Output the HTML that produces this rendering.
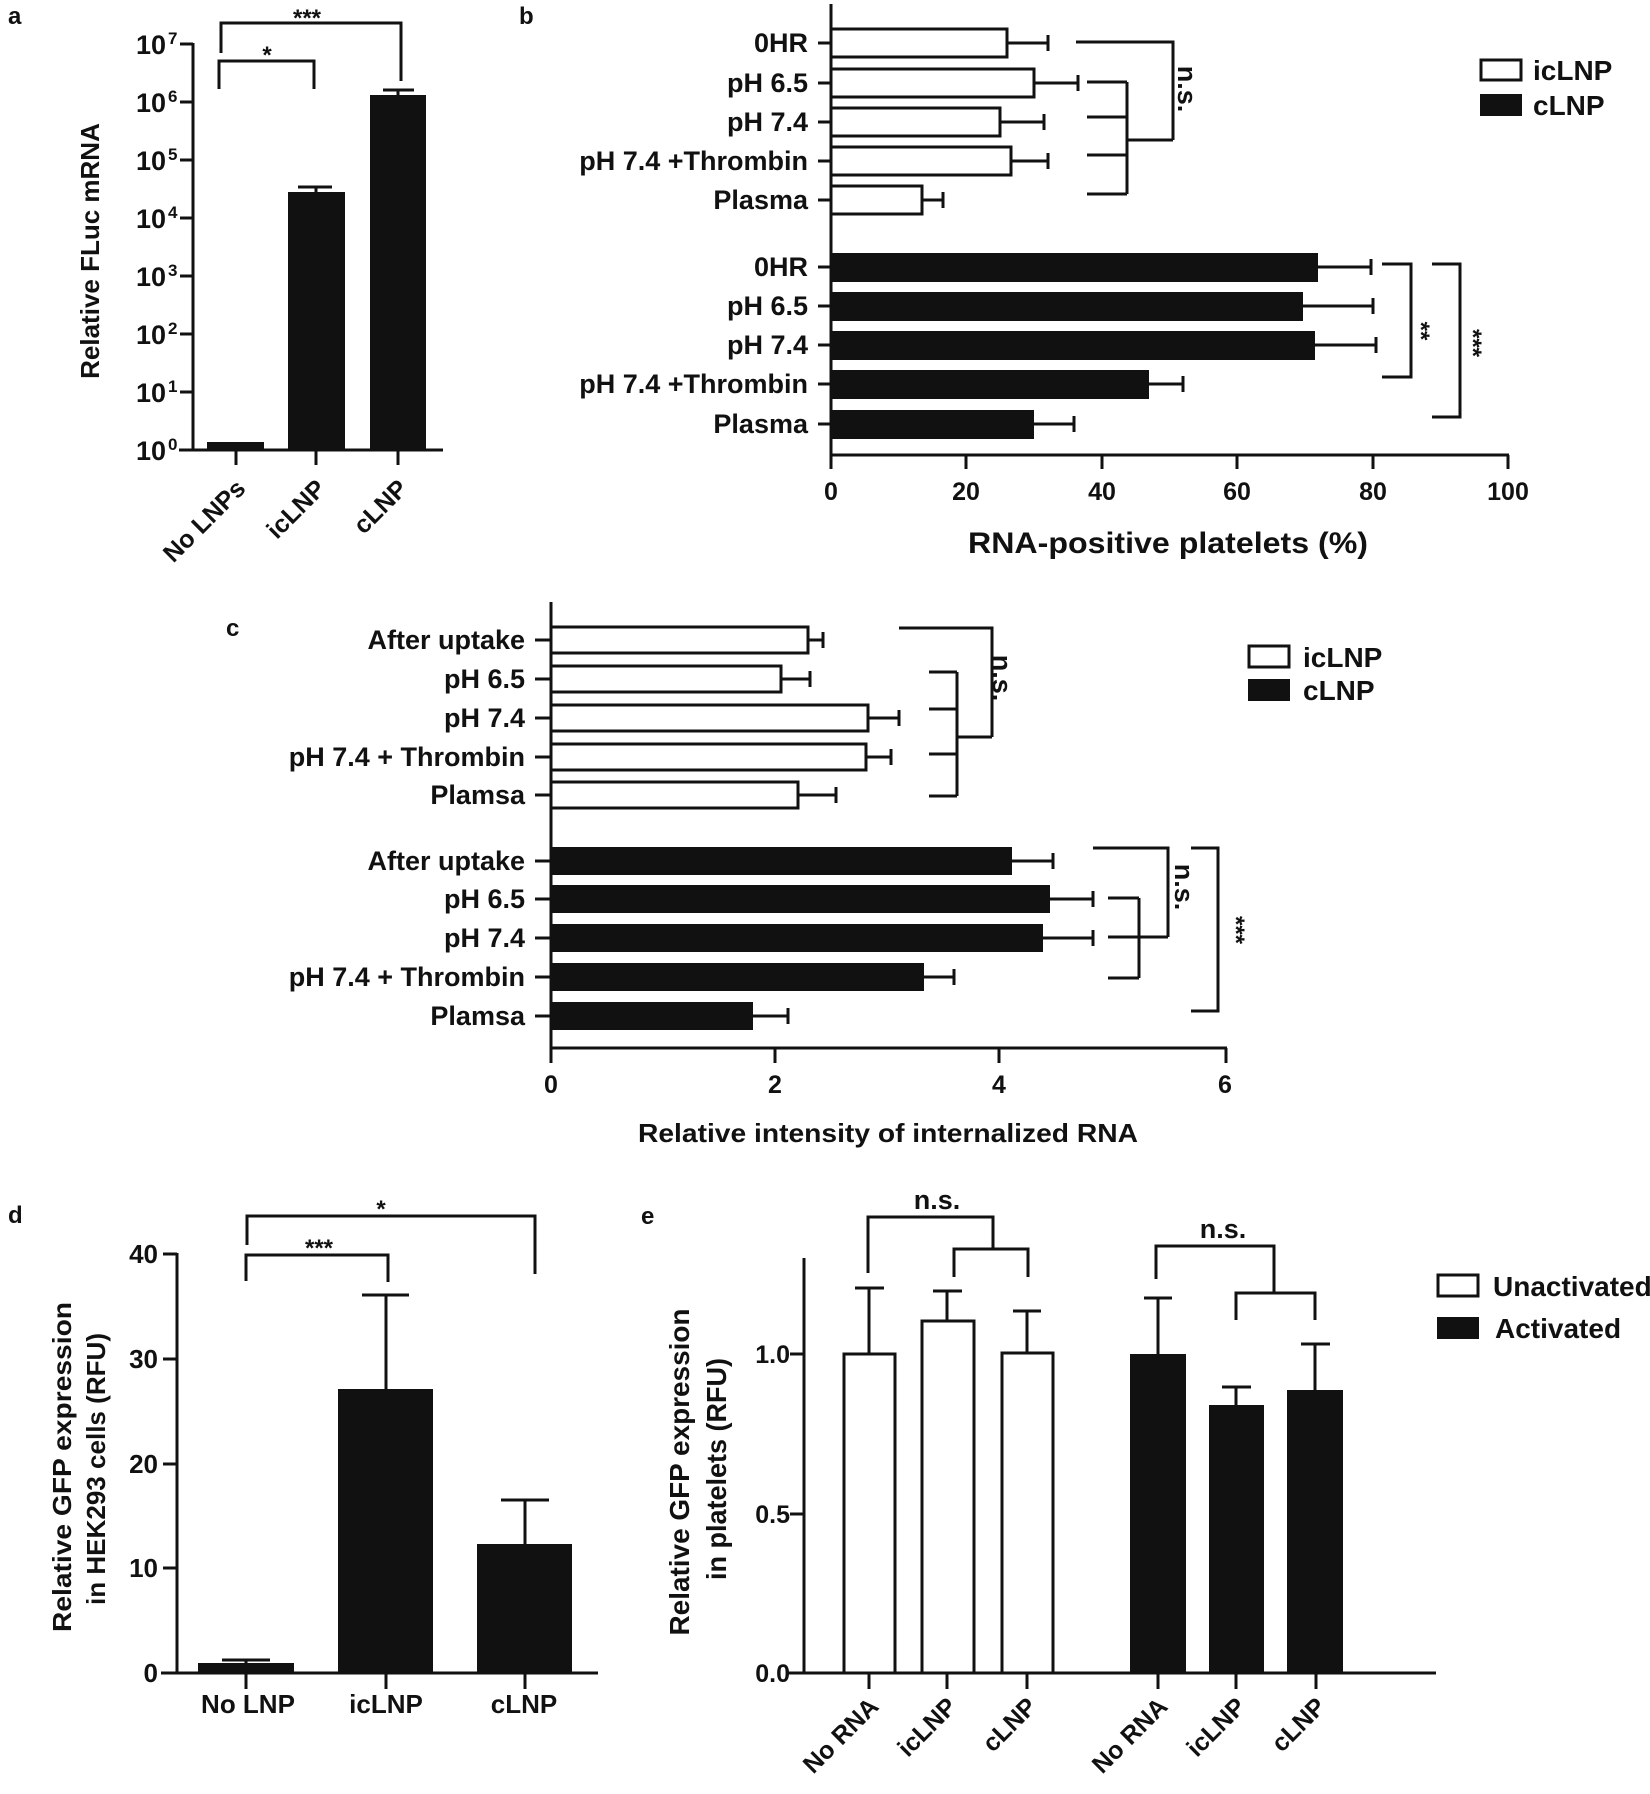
<!DOCTYPE html>
<html><head><meta charset="utf-8"><style>
html,body{margin:0;padding:0;background:#fff;}
svg{display:block;}
text{font-family:"Liberation Sans",Arial,sans-serif;font-weight:bold;fill:#111;}
</style></head><body>
<svg width="1650" height="1794" viewBox="0 0 1650 1794" xmlns="http://www.w3.org/2000/svg">
<g stroke="#111" stroke-width="3" fill="none" stroke-linecap="butt">

<!-- ===== Panel a ===== -->
<line x1="193" y1="43" x2="193" y2="451"/>
<line x1="179" y1="450" x2="443" y2="450"/>
<path d="M180 44H193M180 102H193M180 160H193M180 218H193M180 276H193M180 334H193M180 392H193"/>
<path d="M236 450V465M316 450V465M398 450V465"/>
<!-- brackets -->
<path d="M221 53V23H401V81"/>
<path d="M219 89V61H314V89"/>
<!-- error caps -->
<path d="M316 192V187M298 187H332M398 95V90M383 90H414"/>
</g>
<g fill="#111">
<rect x="207" y="442" width="57" height="8"/>
<rect x="288" y="192" width="57" height="258"/>
<rect x="370" y="95" width="56" height="355"/>
</g>
<g font-size="27" text-anchor="end">
<text x="166" y="54">10</text><text x="166" y="112">10</text><text x="166" y="170">10</text><text x="166" y="228">10</text>
<text x="166" y="286">10</text><text x="166" y="344">10</text><text x="166" y="402">10</text><text x="166" y="460">10</text>
</g>
<g font-size="17">
<text x="168" y="44">7</text><text x="168" y="102">6</text><text x="168" y="160">5</text><text x="168" y="218">4</text>
<text x="168" y="276">3</text><text x="168" y="334">2</text><text x="168" y="392">1</text><text x="168" y="450">0</text>
</g>
<text x="8" y="24" font-size="24">a</text>
<text x="307" y="26" font-size="24" text-anchor="middle">***</text>
<text x="267" y="63" font-size="24" text-anchor="middle">*</text>
<text transform="translate(99,251) rotate(-90)" font-size="26" text-anchor="middle">Relative FLuc mRNA</text>
<g font-size="25" text-anchor="end">
<text transform="translate(247,490) rotate(-45)">No LNPs</text>
<text transform="translate(327,490) rotate(-45)">icLNP</text>
<text transform="translate(409,490) rotate(-45)">cLNP</text>
</g>

<!-- ===== Panel b ===== -->
<text x="519" y="24" font-size="24">b</text>
<g stroke="#111" stroke-width="3" fill="none">
<line x1="831" y1="4" x2="831" y2="456"/>
<line x1="830" y1="455" x2="1509" y2="455"/>
<path d="M831 455V469M966 455V469M1102 455V469M1237 455V469M1373 455V469M1508 455V469"/>
<path d="M818 43H831M818 83H831M818 122H831M818 161H831M818 200H831M818 267H831M818 306H831M818 345H831M818 384H831M818 424H831"/>
<!-- white bars -->
<rect x="831" y="29" width="176" height="28"/>
<rect x="831" y="69" width="203" height="28"/>
<rect x="831" y="108" width="169" height="28"/>
<rect x="831" y="147" width="180" height="28"/>
<rect x="831" y="186" width="91" height="28"/>
<!-- white error -->
<path d="M1007 43H1048M1048 35V51M1034 83H1078M1078 75V91M1000 122H1044M1044 114V130M1011 161H1048M1048 153V169M922 200H943M943 192V208"/>
<!-- black error -->
<path d="M1318 267H1371M1371 259V275M1303 306H1373M1373 298V314M1315 345H1376M1376 337V353M1149 384H1183M1183 376V392M1034 424H1074M1074 416V432"/>
<!-- n.s. bracket -->
<path d="M1076 42H1173V140M1087 82H1127M1087 117H1127M1087 155H1127M1087 194H1127M1127 82V194M1127 140H1173"/>
<!-- ** and *** -->
<path d="M1382 264H1411V377H1382"/>
<path d="M1432 264H1460V417H1432"/>
</g>
<g fill="#111">
<rect x="831" y="253" width="487" height="29"/>
<rect x="831" y="292" width="472" height="29"/>
<rect x="831" y="331" width="484" height="29"/>
<rect x="831" y="370" width="318" height="29"/>
<rect x="831" y="410" width="203" height="29"/>
</g>
<g font-size="27" text-anchor="end">
<text x="808" y="52">0HR</text><text x="808" y="92">pH 6.5</text><text x="808" y="131">pH 7.4</text>
<text x="808" y="170">pH 7.4 +Thrombin</text><text x="808" y="209">Plasma</text>
<text x="808" y="276">0HR</text><text x="808" y="315">pH 6.5</text><text x="808" y="354">pH 7.4</text>
<text x="808" y="393">pH 7.4 +Thrombin</text><text x="808" y="433">Plasma</text>
</g>
<g font-size="25" text-anchor="middle">
<text x="831" y="500">0</text><text x="966" y="500">20</text><text x="1102" y="500">40</text>
<text x="1237" y="500">60</text><text x="1373" y="500">80</text><text x="1508" y="500">100</text>
</g>
<text x="1168" y="553" font-size="30" text-anchor="middle" textLength="400" lengthAdjust="spacingAndGlyphs">RNA-positive platelets (%)</text>
<text transform="translate(1178,89) rotate(90)" font-size="27" text-anchor="middle">n.s.</text>
<text transform="translate(1413,331) rotate(90)" font-size="24" text-anchor="middle">**</text>
<text transform="translate(1465,343) rotate(90)" font-size="24" text-anchor="middle">***</text>
<rect x="1481" y="60" width="40" height="20" fill="#fff" stroke="#111" stroke-width="3"/>
<rect x="1480" y="94" width="42" height="22" fill="#111"/>
<text x="1533" y="80" font-size="28">icLNP</text>
<text x="1533" y="115" font-size="28">cLNP</text>

<!-- ===== Panel c ===== -->
<text x="226" y="636" font-size="24">c</text>
<g stroke="#111" stroke-width="3" fill="none">
<line x1="551" y1="602" x2="551" y2="1049"/>
<line x1="550" y1="1048" x2="1227" y2="1048"/>
<path d="M551 1048V1063M775 1048V1063M999 1048V1063M1226 1048V1063"/>
<path d="M535 640H551M535 679H551M535 718H551M535 757H551M535 795H551M535 861H551M535 899H551M535 938H551M535 977H551M535 1016H551"/>
<rect x="551" y="627" width="257" height="26"/>
<rect x="551" y="666" width="230" height="26"/>
<rect x="551" y="705" width="317" height="26"/>
<rect x="551" y="744" width="315" height="26"/>
<rect x="551" y="782" width="247" height="26"/>
<path d="M808 640H823M823 632V648M781 679H810M810 671V687M868 718H899M899 710V726M866 757H891M891 749V765M798 795H836M836 787V803"/>
<path d="M1012 861H1053M1053 853V869M1050 899H1093M1093 891V907M1043 938H1093M1093 930V946M924 977H954M954 969V985M753 1016H788M788 1008V1024"/>
<!-- white n.s. -->
<path d="M899 628H992V737M929 672H957M929 709H957M929 754H957M929 796H957M957 672V796M957 737H992"/>
<!-- black n.s. -->
<path d="M1093 848H1168V937M1108 898H1139M1108 937H1168M1108 978H1139M1139 898V978"/>
<path d="M1191 848H1218V1011H1191"/>
</g>
<g fill="#111">
<rect x="551" y="847" width="461" height="28"/>
<rect x="551" y="885" width="499" height="28"/>
<rect x="551" y="924" width="492" height="28"/>
<rect x="551" y="963" width="373" height="28"/>
<rect x="551" y="1002" width="202" height="28"/>
</g>
<g font-size="27" text-anchor="end">
<text x="525" y="649">After uptake</text><text x="525" y="688">pH 6.5</text><text x="525" y="727">pH 7.4</text>
<text x="525" y="766">pH 7.4 + Thrombin</text><text x="525" y="804">Plamsa</text>
<text x="525" y="870">After uptake</text><text x="525" y="908">pH 6.5</text><text x="525" y="947">pH 7.4</text>
<text x="525" y="986">pH 7.4 + Thrombin</text><text x="525" y="1025">Plamsa</text>
</g>
<g font-size="25" text-anchor="middle">
<text x="551" y="1093">0</text><text x="775" y="1093">2</text><text x="999" y="1093">4</text><text x="1225" y="1093">6</text>
</g>
<text x="888" y="1142" font-size="26" text-anchor="middle" textLength="500" lengthAdjust="spacingAndGlyphs">Relative intensity of internalized RNA</text>
<text transform="translate(993,678) rotate(90)" font-size="27" text-anchor="middle">n.s.</text>
<text transform="translate(1175,887) rotate(90)" font-size="27" text-anchor="middle">n.s.</text>
<text transform="translate(1228,930) rotate(90)" font-size="24" text-anchor="middle">***</text>
<rect x="1249" y="646" width="40" height="21" fill="#fff" stroke="#111" stroke-width="3"/>
<rect x="1248" y="679" width="42" height="22" fill="#111"/>
<text x="1303" y="667" font-size="28">icLNP</text>
<text x="1303" y="700" font-size="28">cLNP</text>

<!-- ===== Panel d ===== -->
<text x="8" y="1223" font-size="24">d</text>
<g stroke="#111" stroke-width="3" fill="none">
<line x1="177" y1="1253" x2="177" y2="1674"/>
<line x1="161" y1="1673" x2="598" y2="1673"/>
<path d="M163 1254H177M163 1359H177M163 1464H177M163 1568H177"/>
<path d="M246 1673V1689M386 1673V1689M525 1673V1689"/>
<path d="M246 1663V1660M222 1660H270M386 1389V1295M362 1295H409M525 1544V1500M501 1500H549"/>
<path d="M246 1281V1255H388V1282"/>
<path d="M247 1245V1216H535V1274"/>
</g>
<g fill="#111">
<rect x="198" y="1663" width="96" height="10"/>
<rect x="338" y="1389" width="95" height="284"/>
<rect x="477" y="1544" width="95" height="129"/>
</g>
<g font-size="26" text-anchor="end">
<text x="158" y="1263">40</text><text x="158" y="1368">30</text><text x="158" y="1473">20</text><text x="158" y="1577">10</text><text x="158" y="1682">0</text>
</g>
<text x="319" y="1256" font-size="24" text-anchor="middle">***</text>
<text x="381" y="1217" font-size="24" text-anchor="middle">*</text>
<g font-size="26" text-anchor="middle">
<text x="248" y="1713">No LNP</text><text x="386" y="1713">icLNP</text><text x="524" y="1713">cLNP</text>
</g>
<text transform="translate(71,1467) rotate(-90)" font-size="26" text-anchor="middle" textLength="330" lengthAdjust="spacingAndGlyphs">Relative GFP expression</text>
<text transform="translate(105,1469) rotate(-90)" font-size="26" text-anchor="middle" textLength="272" lengthAdjust="spacingAndGlyphs">in HEK293 cells (RFU)</text>

<!-- ===== Panel e ===== -->
<text x="641" y="1224" font-size="24">e</text>
<g stroke="#111" stroke-width="3" fill="none">
<line x1="804" y1="1258" x2="804" y2="1674"/>
<line x1="788" y1="1673" x2="1436" y2="1673"/>
<path d="M790 1354H804M790 1514H804"/>
<path d="M869 1673V1689M947 1673V1689M1027 1673V1689M1158 1673V1689M1236 1673V1689M1316 1673V1689"/>
<rect x="844" y="1354" width="51" height="319"/>
<rect x="922" y="1321" width="52" height="352"/>
<rect x="1002" y="1353" width="51" height="320"/>
<path d="M869 1354V1288M855 1288H884M947 1321V1291M933 1291H962M1027 1353V1311M1013 1311H1041"/>
<path d="M1158 1354V1298M1144 1298H1172M1236 1405V1387M1222 1387H1251M1315 1390V1344M1301 1344H1330"/>
<path d="M868 1273V1217H993V1249M954 1277V1249H1028V1277"/>
<path d="M1156 1279V1246H1274V1293M1236 1320V1293H1315V1320"/>
</g>
<g fill="#111">
<rect x="1130" y="1354" width="56" height="319"/>
<rect x="1209" y="1405" width="55" height="268"/>
<rect x="1287" y="1390" width="56" height="283"/>
</g>
<g font-size="25" text-anchor="end">
<text x="790" y="1363">1.0</text><text x="790" y="1523">0.5</text><text x="790" y="1682">0.0</text>
</g>
<text x="937" y="1209" font-size="27" text-anchor="middle">n.s.</text>
<text x="1223" y="1238" font-size="27" text-anchor="middle">n.s.</text>
<g font-size="25" text-anchor="end">
<text transform="translate(880,1708) rotate(-45)">No RNA</text>
<text transform="translate(958,1708) rotate(-45)">icLNP</text>
<text transform="translate(1038,1708) rotate(-45)">cLNP</text>
<text transform="translate(1169,1708) rotate(-45)">No RNA</text>
<text transform="translate(1247,1708) rotate(-45)">icLNP</text>
<text transform="translate(1327,1708) rotate(-45)">cLNP</text>
</g>
<text transform="translate(689,1472) rotate(-90)" font-size="28" text-anchor="middle" textLength="327" lengthAdjust="spacingAndGlyphs">Relative GFP expression</text>
<text transform="translate(726,1469) rotate(-90)" font-size="28" text-anchor="middle" textLength="222" lengthAdjust="spacingAndGlyphs">in platelets (RFU)</text>
<rect x="1438" y="1275" width="40" height="21" fill="#fff" stroke="#111" stroke-width="3"/>
<rect x="1437" y="1317" width="42" height="22" fill="#111"/>
<text x="1493" y="1296" font-size="28">Unactivated</text>
<text x="1495" y="1338" font-size="28">Activated</text>
</svg>
</body></html>
